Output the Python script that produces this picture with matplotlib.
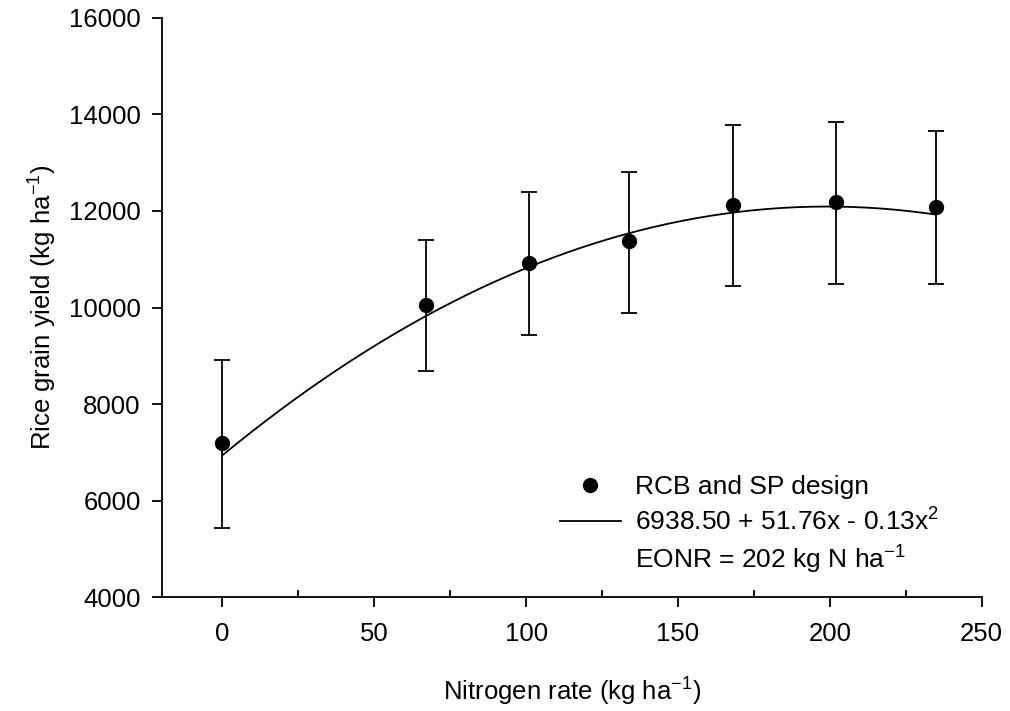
import matplotlib
matplotlib.use("Agg")
import matplotlib.pyplot as plt
import numpy as np
from matplotlib.lines import Line2D
from matplotlib.ticker import MultipleLocator

# N rate (kg/ha), mean yield and error-bar ends
n_rate = [0, 67, 101, 134, 168, 202, 235]
yield_mean = [7200, 10060, 10930, 11370, 12130, 12190, 12090]
yield_upper = [8920, 11400, 12400, 12810, 13770, 13840, 13660]
yield_lower = [5440, 8680, 9440, 9890, 10450, 10480, 10480]

# quadratic fit given in the legend: 6938.50 + 51.76x - 0.13x^2
fit_coef = [-0.13, 51.76, 6938.50]
fit_range = [0, 235]

FS = 18.5

plt.rcParams.update({
    "font.family": ["Liberation Sans", "DejaVu Sans"],
    "mathtext.fontset": "custom",
    "mathtext.rm": "Liberation Sans",
    "mathtext.it": "Liberation Sans",
    "mathtext.default": "regular",
})

fig = plt.figure(figsize=(10.10, 7.11), dpi=100)
ax = fig.add_axes([0.160, 0.160, 0.812, 0.815])

y = np.array(yield_mean)
yerr = [y - np.array(yield_lower), np.array(yield_upper) - y]
ax.errorbar(n_rate, yield_mean, yerr=yerr, fmt="none", ecolor="black",
            elinewidth=1.3, capsize=6, capthick=1.3, zorder=2)
ax.plot(n_rate, yield_mean, "o", color="black", markersize=10, zorder=3)

xs = np.linspace(fit_range[0], fit_range[1], 200)
ax.plot(xs, np.polyval(fit_coef, xs), color="black", linewidth=1.3, zorder=2)

ax.set_xlim(-20, 250)
ax.set_ylim(4000, 16000)
ax.xaxis.set_major_locator(MultipleLocator(50))
ax.xaxis.set_minor_locator(MultipleLocator(25))
ax.yaxis.set_major_locator(MultipleLocator(2000))

for side in ("top", "right"):
    ax.spines[side].set_visible(False)
for side in ("left", "bottom"):
    ax.spines[side].set_linewidth(1.3)

ax.tick_params(axis="x", which="major", direction="out", length=7, width=1.3,
               labelsize=FS, pad=11)
ax.tick_params(axis="x", which="minor", direction="in", length=5, width=1.3)
ax.tick_params(axis="y", which="major", direction="out", length=7, width=1.3,
               labelsize=FS, pad=8)

ax.set_xlabel("Nitrogen rate (kg ha$^{-1}$)", fontsize=FS, labelpad=21)
ax.set_ylabel("Rice grain yield (kg ha$^{-1}$)", fontsize=FS, labelpad=7)

handles = [
    Line2D([], [], marker="o", linestyle="none", color="black", markersize=10),
    Line2D([], [], color="black", linewidth=1.3),
    Line2D([], [], linestyle="none"),
]
labels = [
    "RCB and SP design",
    "6938.50 + 51.76x - 0.13x$^{2}$",
    "EONR = 202 kg N ha$^{-1}$",
]
fig.legend(handles, labels, loc="upper left", bbox_to_anchor=(560 / 1010, 1 - 475 / 711),
           frameon=False, fontsize=19, handlelength=2.3, handletextpad=0.55,
           labelspacing=0.34, borderpad=0, borderaxespad=0)

fig.savefig("out.png", dpi=100)
